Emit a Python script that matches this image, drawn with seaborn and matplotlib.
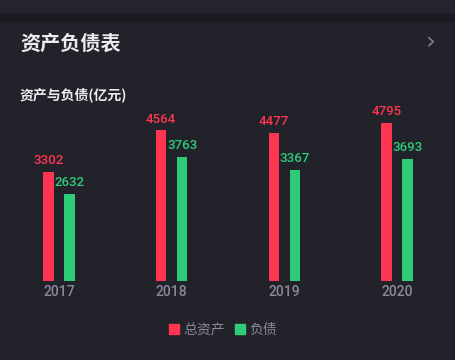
import matplotlib
matplotlib.use("Agg")
import matplotlib.pyplot as plt
import seaborn as sns
import pandas as pd
from matplotlib.patches import Patch, Rectangle

years = ["2017", "2018", "2019", "2020"]
total_assets = [3302, 4564, 4477, 4795]
liabilities = [2632, 3763, 3367, 3693]
series_names = ["总资产", "负债"]
title = "资产负债表"
subtitle = "资产与负债(亿元)"

red = "#fe3550"
green = "#2ecc78"
bg = "#22222b"
gray = "#8a8a9c"

df = pd.DataFrame({
    "year": years * 2,
    "value": total_assets + liabilities,
    "series": [series_names[0]] * 4 + [series_names[1]] * 4,
})

sns.set_theme(style="dark")
plt.rcParams["font.family"] = ["Noto Sans CJK SC", "DejaVu Sans"]

W, H = 456, 360
fig = plt.figure(figsize=(W / 100, H / 100), dpi=100, facecolor=bg)
# top bands
fig.patches.append(Rectangle((0, 1 - 13 / H), 1, 13 / H, transform=fig.transFigure,
                             color="#24242e", zorder=0))
fig.patches.append(Rectangle((0, 1 - 21 / H), 1, 8 / H, transform=fig.transFigure,
                             color="#1b1b22", zorder=0))

ax_left, ax_right = 19, 437
ax_top, ax_bottom = 110, 281
ax = fig.add_axes([ax_left / W, 1 - ax_bottom / H, (ax_right - ax_left) / W,
                   (ax_bottom - ax_top) / H])
ax.set_facecolor(bg)

sns.barplot(data=df, x="year", y="value", hue="series", palette=[red, green],
            width=0.372, gap=0.5, ax=ax, legend=False, saturation=1,
            edgecolor="none", linewidth=0)

num_font = ["Roboto", "DejaVu Sans"]
for cont, col in zip(ax.containers, [red, green]):
    ax.bar_label(cont, padding=3.5, color=col, fontsize=9.5, fontweight="medium",
                 fontfamily=num_font)

ax.set_xlim(-0.355, 3.354)
ax.set_ylim(0, 171 / 0.0330)
ax.set_xlabel("")
ax.set_ylabel("")
ax.set_yticks([])
ax.tick_params(axis="x", length=0, pad=3, labelsize=10, labelcolor=gray)
for lab in ax.get_xticklabels():
    lab.set_fontfamily(num_font)
    lab.set_fontweight("medium")
for s in ax.spines.values():
    s.set_visible(False)
ax.axhline(0, color="#4a4a58", lw=0.9, ls=(0, (3, 3)), zorder=0)
ax.grid(False)

fig.text(20 / W, 1 - 43 / H, title, color="#ececf0", fontsize=14.5,
         va="center", ha="left", fontweight="bold")
fig.text(431 / W, 1 - 43 / H, "›", color="#7a7a8c", fontsize=18,
         va="center", ha="center", fontfamily=["DejaVu Sans"])
fig.text(20 / W, 1 - 95 / H, subtitle, color="#ececf0", fontsize=10,
         va="center", ha="left", fontweight="bold")

handles = [Patch(color=red, label=series_names[0]), Patch(color=green, label=series_names[1])]
leg = fig.legend(handles=handles, loc="center", bbox_to_anchor=(223 / W, 1 - 330 / H),
                 ncol=2, frameon=False, fontsize=10, handlelength=0.7, handleheight=0.7,
                 handletextpad=0.35, columnspacing=0.7, labelcolor=gray)

fig.savefig("out.png", dpi=100, facecolor=bg)
